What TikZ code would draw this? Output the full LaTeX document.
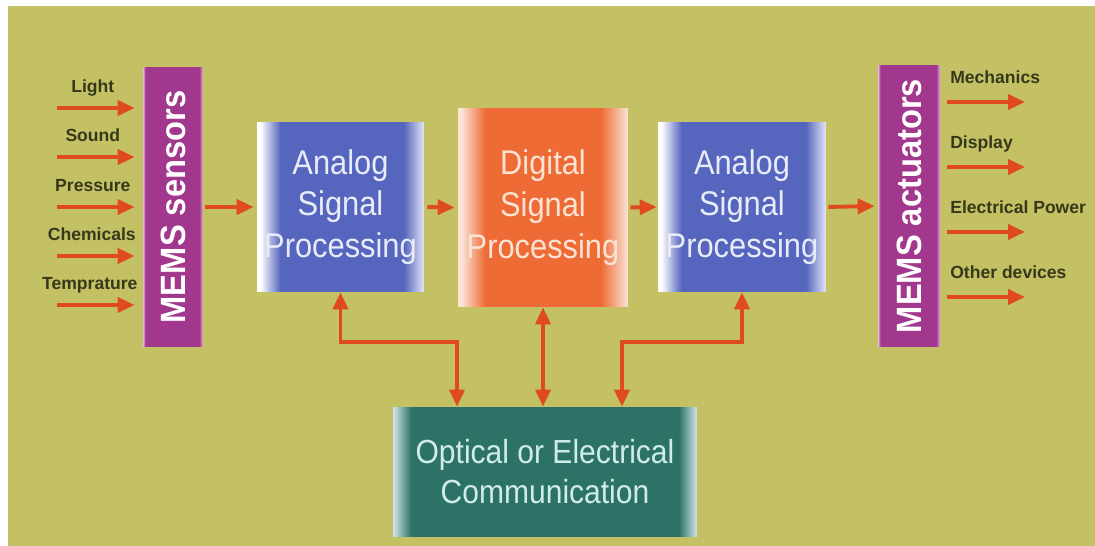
\documentclass[tikz,border=0pt]{standalone}
\usepackage{fontspec}
\setmainfont{Liberation Sans}
\newfontfamily\boxfont{Liberation Sans}[FakeStretch=0.9]
\newfontfamily\barfont{Liberation Sans}[FakeStretch=0.93]
\usetikzlibrary{
  arrows.meta,
  positioning,
  calc
}
\definecolor{mwBg}{HTML}{C4C164}
\definecolor{mwBar}{HTML}{A2388E}
\definecolor{mwBarEdge}{HTML}{E8B4D8}
\definecolor{mwAsp}{HTML}{5666BE}
\definecolor{mwAspEdge}{HTML}{E2E6F6}
\definecolor{mwAspText}{HTML}{E8EBF8}
\definecolor{mwDsp}{HTML}{EE6B36}
\definecolor{mwDspEdge}{HTML}{FBE4D6}
\definecolor{mwDspText}{HTML}{FBE3D3}
\definecolor{mwCom}{HTML}{2D7266}
\definecolor{mwComEdge}{HTML}{D2E6EA}
\definecolor{mwComText}{HTML}{CFEDE6}
\definecolor{mwArrow}{HTML}{DF4A1E}
\definecolor{mwLabel}{HTML}{36381A}
\pgfdeclarehorizontalshading{barshade}{100bp}{color(0bp)=(mwBarEdge); color(25bp)=(mwBarEdge); color(27bp)=(mwBar); color(72bp)=(mwBar); color(75bp)=(mwBarEdge); color(100bp)=(mwBarEdge)}
\pgfdeclarehorizontalshading{aspshade}{100bp}{color(0bp)=(white); color(25bp)=(white); color(26bp)=(white); color(32bp)=(mwAsp); color(69bp)=(mwAsp); color(75bp)=(mwAspEdge); color(100bp)=(mwAspEdge)}
\pgfdeclarehorizontalshading{dspshade}{100bp}{color(0bp)=(mwDspEdge); color(25bp)=(mwDspEdge); color(26bp)=(mwDspEdge); color(33bp)=(mwDsp); color(67bp)=(mwDsp); color(75bp)=(mwDspEdge); color(100bp)=(mwDspEdge)}
\pgfdeclarehorizontalshading{comshade}{100bp}{color(0bp)=(mwComEdge); color(25bp)=(mwComEdge); color(28bp)=(mwCom); color(72bp)=(mwCom); color(75bp)=(mwComEdge); color(100bp)=(mwComEdge)}
\tikzset{
  mwtip/.tip={Triangle[length=0.34cm, width=0.3cm]},
  sigline/.style={line width=2.2pt, draw=mwArrow, -mwtip},
  dualline/.style={line width=2.2pt, draw=mwArrow, mwtip-mwtip},
  mwnode/.style={shade, inner sep=0pt, align=center},
  membar/.style={mwnode, shading=barshade, minimum width=1.2cm, minimum height=5.6cm,
    text=white, font=\barfont\bfseries\fontsize{20}{24}\selectfont},
  aspbox/.style={mwnode, shading=aspshade, minimum width=3.34cm, minimum height=3.4cm,
    text=mwAspText, font=\boxfont\fontsize{19.5}{23.8}\selectfont},
  dspbox/.style={mwnode, shading=dspshade, minimum width=3.4cm, minimum height=3.98cm,
    text=mwDspText, font=\boxfont\fontsize{19.5}{23.8}\selectfont},
  combox/.style={mwnode, shading=comshade, minimum width=6.08cm, minimum height=2.6cm,
    text=mwComText, font=\boxfont\fontsize{19}{22.7}\selectfont},
  sensetag/.style={font=\bfseries\fontsize{10}{12}\selectfont, text=mwLabel, inner sep=0pt, text depth=0.22em}
}

\begin{document}
\begin{tikzpicture}[x=0.02cm, y=-0.02cm]
  \useasboundingbox (0,0) rectangle (1095,546);
  \fill[white] (0,0) rectangle (1095,546);
  \fill[mwBg] (8,6) rectangle (1095,546);

  \node[membar, minimum width=1.2cm, minimum height=5.6cm] (sensors) at (173,207) {\rotatebox{90}{MEMS sensors}};
  \node[aspbox] (asp1) at (340.5,207) {Analog\\Signal\\Processing};
  \node[dspbox] (dsp) at (543,207.5) {Digital\\Signal\\Processing};
  \node[aspbox, minimum width=3.36cm] (asp2) at (742,207) {Analog\\Signal\\Processing};
  \node[membar, minimum width=1.24cm, minimum height=5.64cm] (actuators) at (909,206) {\rotatebox{90}{MEMS actuators}};
  \node[combox] (comm) at (545,472) {Optical or Electrical\\Communication};

  \coordinate (inLight) at (57,108);
  \coordinate (inSound) at (57,157);
  \coordinate (inPress) at (57,207);
  \coordinate (inChem) at (57,256);
  \coordinate (inTemp) at (57,305);
  \draw[sigline, shorten >=0.16cm] (inLight) -- node[sensetag, above=0.2cm, xshift=-0.14cm] {Light} (inLight -| sensors.west);
  \draw[sigline, shorten >=0.16cm] (inSound) -- node[sensetag, above=0.2cm, xshift=-0.14cm] {Sound} (inSound -| sensors.west);
  \draw[sigline, shorten >=0.16cm] (inPress) -- node[sensetag, above=0.2cm, xshift=-0.14cm] {Pressure} (inPress -| sensors.west);
  \draw[sigline, shorten >=0.16cm] (inChem) -- node[sensetag, above=0.2cm, xshift=-0.16cm] {Chemicals} (inChem -| sensors.west);
  \draw[sigline, shorten >=0.16cm] (inTemp) -- node[sensetag, above=0.2cm, xshift=-0.2cm] {Temprature} (inTemp -| sensors.west);

  \draw[sigline, shorten <=0.04cm, shorten >=0.06cm] (sensors.east) -- (asp1.west);
  \draw[sigline, shorten <=0.06cm, shorten >=0.06cm] (asp1.east) -- (dsp.west);
  \draw[sigline, shorten <=0.04cm, shorten >=0.02cm] (dsp.east) -- (asp2.west);
  \draw[sigline, shorten <=0.04cm, shorten >=0.06cm] (asp2.east) -- (actuators.west);

  \coordinate (outMech) at (1025,102);
  \coordinate (outDisp) at (1025,167);
  \coordinate (outPower) at (1025,232);
  \coordinate (outOther) at (1025,297);
  \draw[sigline, shorten <=0.14cm] (outMech -| actuators.east) node[sensetag, above right=0.25cm and 0.16cm] {Mechanics} -- (outMech);
  \draw[sigline, shorten <=0.14cm] (outDisp -| actuators.east) node[sensetag, above right=0.25cm and 0.16cm] {Display} -- (outDisp);
  \draw[sigline, shorten <=0.14cm] (outPower -| actuators.east) node[sensetag, above right=0.25cm and 0.16cm] {Electrical Power} -- (outPower);
  \draw[sigline, shorten <=0.14cm] (outOther -| actuators.east) node[sensetag, above right=0.25cm and 0.16cm] {Other devices} -- (outOther);

  \draw[dualline] (asp1.south) -- ++(0,50) -| ([xshift=-1.76cm]comm.north);
  \draw[dualline] (dsp.south) -- (dsp.south |- comm.north);
  \draw[dualline] (asp2.south) -- ++(0,50) -| ([xshift=1.54cm]comm.north);
\end{tikzpicture}
\end{document}
